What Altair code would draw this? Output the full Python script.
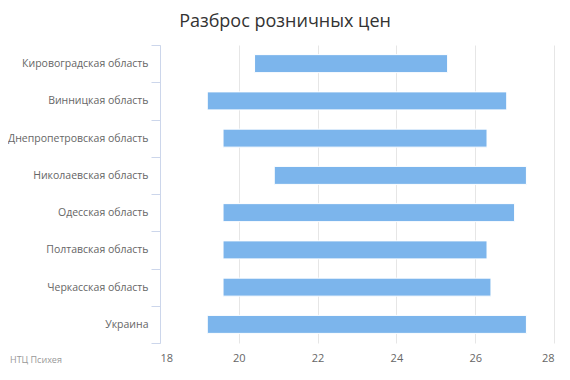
import altair as alt
import pandas as pd

categories = [
    "Кировоградская область",
    "Винницкая область",
    "Днепропетровская область",
    "Николаевская область",
    "Одесская область",
    "Полтавская область",
    "Черкасская область",
    "Украина",
]
low = [20.4, 19.2, 19.6, 20.9, 19.6, 19.6, 19.6, 19.2]
high = [25.3, 26.8, 26.3, 27.3, 27.0, 26.3, 26.4, 27.3]
x_ticks = [18, 20, 22, 24, 26, 28]
title_text = "Разброс розничных цен"
credits_text = "НТЦ Психея"

FONT = "Open Sans"
df = pd.DataFrame({"region": categories, "low": low, "high": high})

W, H = 394, 298

bars = alt.Chart(df).mark_bar(size=18, color="#7cb5ec", stroke="#ffffff", strokeWidth=1).encode(
    y=alt.Y(
        "region:N",
        sort=categories,
        title=None,
        scale=alt.Scale(paddingInner=0, paddingOuter=0),
        axis=alt.Axis(
            tickBand="extent",
            tickSize=9,
            tickColor="#ccd6eb",
            domainColor="#ccd6eb",
            labelPadding=3,
            labelFont=FONT,
            labelFontSize=10.5,
            labelColor="#666666",
            grid=False,
            labelLimit=300,
        ),
    ),
    x=alt.X(
        "low:Q",
        title=None,
        scale=alt.Scale(domain=[18, 28], nice=False, zero=False),
        axis=alt.Axis(
            values=x_ticks,
            domain=False,
            ticks=False,
            tickSize=0,
            labelPadding=9,
            labelFont=FONT,
            labelFontSize=11,
            labelColor="#666666",
            gridColor="#e6e6e6",
            gridWidth=1,
        ),
    ),
    x2="high:Q",
)

title = alt.Chart(pd.DataFrame({"t": [title_text]})).mark_text(
    align="center", baseline="alphabetic", font=FONT, fontSize=18, color="#333333"
).encode(x=alt.value(125), y=alt.value(-18), text="t:N")

credits = alt.Chart(pd.DataFrame({"t": [credits_text]})).mark_text(
    align="left", baseline="alphabetic", font=FONT, fontSize=9, color="#999999"
).encode(x=alt.value(-150), y=alt.value(H + 20), text="t:N")

chart = (
    alt.layer(bars, title, credits)
    .properties(
        width=W,
        height=H,
        autosize=alt.AutoSizeParams(type="none"),
        padding={"left": 152, "top": 37, "right": 8, "bottom": 22},
    )
    .configure_view(stroke=None)
)

chart.save("out.html", embed_options={"renderer": "svg", "actions": False})
